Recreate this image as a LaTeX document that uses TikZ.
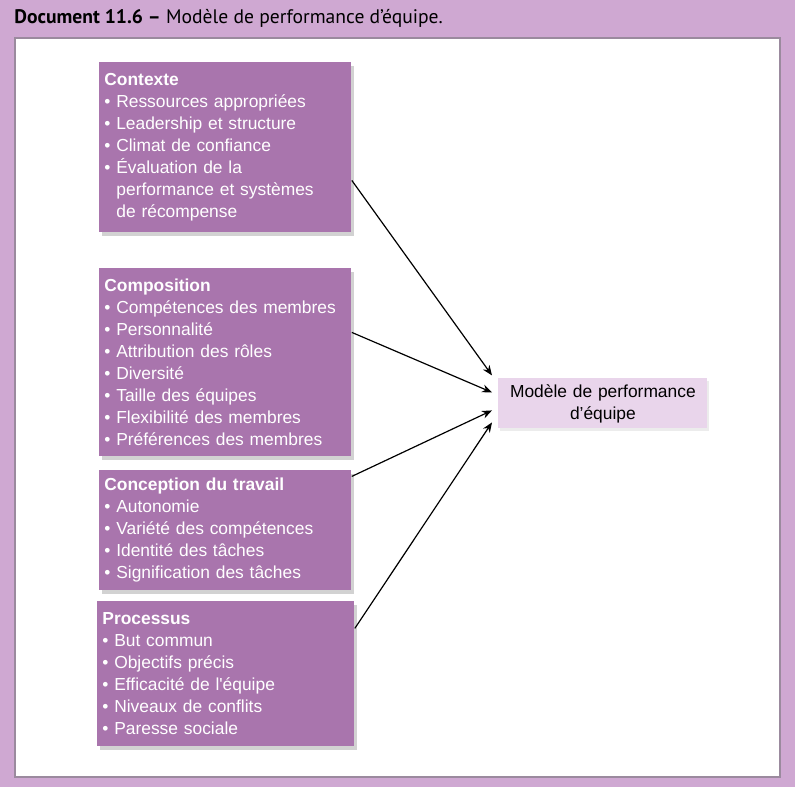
\documentclass[tikz,border=0pt]{standalone}
\usepackage{fontspec}
\setmainfont{Liberation Sans}
\newfontfamily\titlefont{PT Sans}
\usetikzlibrary{arrows.meta,shadows}
\definecolor{lavande}{HTML}{CFA8D2}
\definecolor{mauve}{HTML}{A975AD}
\definecolor{mauveclair}{HTML}{E9D5EB}
\definecolor{cadre}{HTML}{9B8A9E}

\begin{document}
\begin{tikzpicture}
  [x=0.5pt,y=-0.5pt,
   every node/.style={anchor=north west,inner xsep=2.5pt,inner ysep=0pt,
     font=\fontsize{8.7}{11}\selectfont},
   bloc/.style={fill=mauve,text=white,align=left,text width=121pt,
     drop shadow={shadow xshift=1.5pt,shadow yshift=-2pt,opacity=.35}}]
  \fill[lavande] (0,0) rectangle (795,787);
  \filldraw[fill=white,draw=cadre,line width=0.8pt] (15,38) rectangle (780,777);
  \node[anchor=west,inner xsep=0pt,font=\titlefont\fontsize{9.8}{12}\selectfont] (titre) at (14,18)
    {\textbf{Document 11.6 –} Modèle de performance d’équipe.};

  \node[bloc,minimum height=85pt] (ctx) at (99,62) {\textbf{Contexte}\\
    • Ressources appropriées\\
    • Leadership et structure\\
    • Climat de confiance\\
    • Évaluation de la\\
    \hspace*{6pt}performance et systèmes\\
    \hspace*{6pt}de récompense};
  \node[bloc,minimum height=94pt] (comp) at (99,268) {\textbf{Composition}\\
    • Compétences des membres\\
    • Personnalité\\
    • Attribution des rôles\\
    • Diversité\\
    • Taille des équipes\\
    • Flexibilité des membres\\
    • Préférences des membres};
  \node[bloc,minimum height=60pt] (conc) at (99,470) {\textbf{Conception du travail}\\
    • Autonomie\\
    • Variété des compétences\\
    • Identité des tâches\\
    • Signification des tâches};
  \node[bloc,text width=123.5pt,minimum height=72.5pt] (proc) at (97,601) {\textbf{Processus}\\
    • But commun\\
    • Objectifs précis\\
    • Efficacité de l\textquotesingle équipe\\
    • Niveaux de conflits\\
    • Paresse sociale};
  \node[fill=mauveclair,align=center,text width=99.5pt,minimum height=25pt,
    drop shadow={shadow xshift=1pt,shadow yshift=-1.5pt,opacity=.15}] (perf) at (498,378)
    {Modèle de performance\\d’équipe};

  \path[-{Stealth[length=5pt,width=4pt]},line width=0.6pt]
    ([yshift=-16.5pt]ctx.east) edge ([xshift=-3pt,yshift=14pt]perf.west)
    ([yshift=15pt]comp.east)   edge ([xshift=-3pt,yshift=5.5pt]perf.west)
    ([yshift=27pt]conc.east)   edge ([xshift=-3pt,yshift=-3.5pt]perf.west)
    ([yshift=22.75pt]proc.east) edge ([xshift=-3pt,yshift=-9.5pt]perf.west);
\end{tikzpicture}
\end{document}
